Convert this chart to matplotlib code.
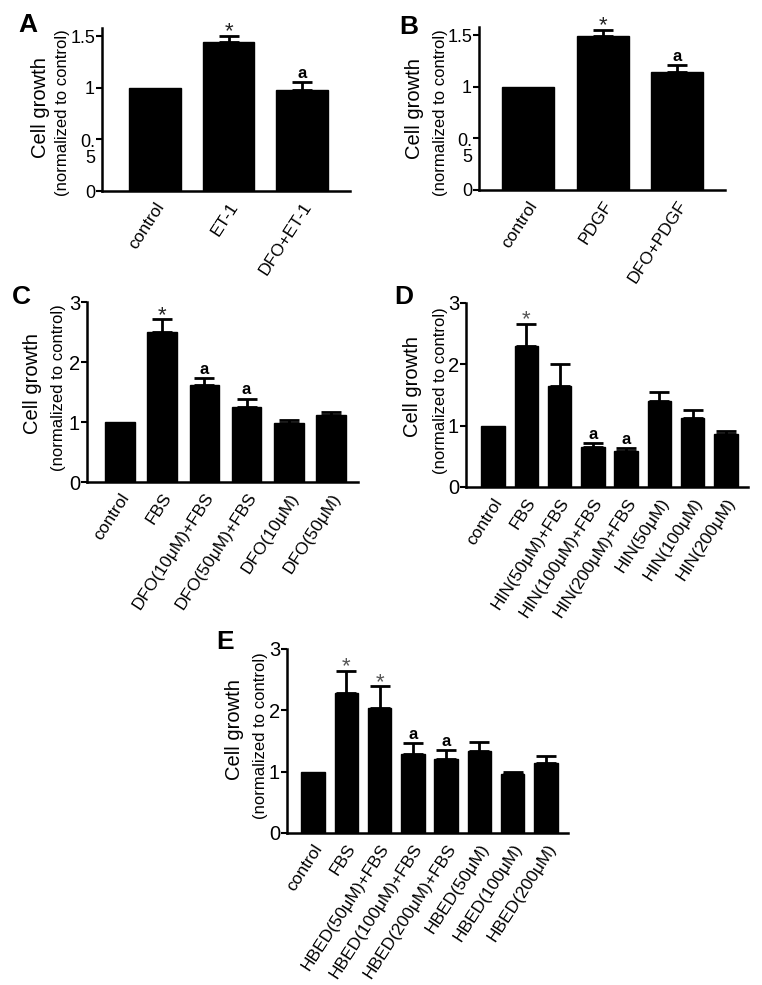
import matplotlib
matplotlib.use("Agg")
import matplotlib.pyplot as plt
from matplotlib.transforms import ScaledTranslation
import numpy as np

plt.rcParams['font.family'] = ['Liberation Sans', 'DejaVu Sans']

W, H = 762, 985

# ---- data ----
a_labels = ['control', 'ET-1', 'DFO+ET-1']
a_means = [1.0, 1.44, 0.98]
a_errs = [0.0, 0.06, 0.075]
a_marks = ['', '*', 'a']

b_labels = ['control', 'PDGF', 'DFO+PDGF']
b_means = [1.0, 1.49, 1.14]
b_errs = [0.0, 0.06, 0.07]
b_marks = ['', '*', 'a']

c_labels = ['control', 'FBS', 'DFO(10μM)+FBS', 'DFO(50μM)+FBS',
            'DFO(10μM)', 'DFO(50μM)']
c_means = [1.0, 2.50, 1.61, 1.25, 0.99, 1.11]
c_errs = [0.0, 0.21, 0.12, 0.14, 0.05, 0.06]
c_marks = ['', '*', 'a', 'a', '', '']

d_labels = ['control', 'FBS', 'HIN(50μM)+FBS', 'HIN(100μM)+FBS',
            'HIN(200μM)+FBS', 'HIN(50μM)', 'HIN(100μM)', 'HIN(200μM)']
d_means = [1.0, 2.30, 1.64, 0.65, 0.59, 1.40, 1.13, 0.86]
d_errs = [0.0, 0.36, 0.36, 0.07, 0.05, 0.15, 0.12, 0.05]
d_marks = ['', '*', '', 'a', 'a', '', '', '']

e_labels = ['control', 'FBS', 'HBED(50μM)+FBS', 'HBED(100μM)+FBS',
            'HBED(200μM)+FBS', 'HBED(50μM)', 'HBED(100μM)', 'HBED(200μM)']
e_means = [1.0, 2.29, 2.04, 1.29, 1.21, 1.34, 0.96, 1.14]
e_errs = [0.0, 0.35, 0.35, 0.17, 0.14, 0.14, 0.04, 0.11]
e_marks = ['', '*', '*', 'a', 'a', '', '', '']

small_ticks = [0, 0.5, 1, 1.5]
small_ticklabels = ['0', '0.\n5', '1', '1.5']
big_ticks = [0, 1, 2, 3]
big_ticklabels = ['0', '1', '2', '3']


def fx(x):
    return x / W


def fy(y):
    return 1 - y / H


fig = plt.figure(figsize=(W / 100, H / 100), dpi=100)


def panel(box, labels, means, errs, marks, xlim, ylim, ticks, ticklabels,
          ytick_size, star_color, letter, letter_xy, lab1_xy, lab2_xy):
    left, top, right, bottom = box
    ax = fig.add_axes([fx(left), fy(bottom), fx(right - left),
                       (bottom - top) / H])
    x = np.arange(len(means))
    means = np.array(means)
    errs = np.array(errs)
    ax.bar(x, means, width=0.7, color='black', edgecolor='black', zorder=2)
    has_err = errs > 0
    ax.errorbar(x[has_err], means[has_err],
                yerr=[np.zeros(has_err.sum()), errs[has_err]], fmt='none',
                ecolor='black', elinewidth=2, capsize=7, capthick=2, zorder=1)
    for xi, m, e, mk in zip(x, means, errs, marks):
        if mk == '*':
            ax.annotate('*', (xi, m + e), xytext=(0, -1),
                        textcoords='offset points', ha='center',
                        va='baseline', fontsize=16, color=star_color)
        elif mk:
            ax.annotate(mk, (xi, m + e), xytext=(0, 3),
                        textcoords='offset points', ha='center',
                        va='baseline', fontsize=12, fontweight='bold')
    ax.set_xlim(*xlim)
    ax.set_ylim(*ylim)
    ax.set_yticks(ticks)
    ax.set_yticklabels(ticklabels)
    ax.set_xticks(x)
    ax.set_xticklabels(labels, rotation=57, ha='right',
                       rotation_mode='anchor')
    ax.tick_params(axis='x', length=0, pad=6, labelsize=12.5)
    ax.tick_params(axis='y', length=4, width=1.5, pad=1,
                   labelsize=ytick_size)
    for t in ax.get_yticklabels():
        if '\n' in t.get_text():
            t.set_linespacing(0.95)
            t.set_transform(t.get_transform() +
                            ScaledTranslation(0, -7 / 72,
                                              fig.dpi_scale_trans))
    for s in ['top', 'right']:
        ax.spines[s].set_visible(False)
    for s in ['left', 'bottom']:
        ax.spines[s].set_linewidth(1.8)
    fig.text(fx(letter_xy[0]), fy(letter_xy[1]), letter, fontsize=19,
             fontweight='bold', ha='center', va='center')
    fig.text(fx(lab1_xy[0]), fy(lab1_xy[1]), 'Cell growth', fontsize=14.5,
             rotation=90, ha='center', va='center')
    fig.text(fx(lab2_xy[0]), fy(lab2_xy[1]), '(normalized to control)',
             fontsize=12, rotation=90, ha='center', va='center')
    return ax


panel((102, 28, 350, 191), a_labels, a_means, a_errs, a_marks,
      (-0.72, 2.65), (0, 1.58), small_ticks, small_ticklabels, 13, '#222222',
      'A', (28, 25), (40, 108), (63, 113))
panel((479, 27, 725, 190), b_labels, b_means, b_errs, b_marks,
      (-0.66, 2.64), (0, 1.58), small_ticks, small_ticklabels, 13, '#222222',
      'B', (409, 27), (415, 109), (440, 113))
panel((87, 302, 358, 482), c_labels, c_means, c_errs, c_marks,
      (-0.78, 5.64), (0, 3.0), big_ticks, big_ticklabels, 14.5, '#222222',
      'C', (21, 297), (33, 384), (58, 388))
panel((466, 303, 748, 487), d_labels, d_means, d_errs, d_marks,
      (-0.81, 7.66), (0, 3.0), big_ticks, big_ticklabels, 14.5, '#555555',
      'D', (404, 297), (413, 387), (440, 391))
panel((287, 649, 568, 833), e_labels, e_means, e_errs, e_marks,
      (-0.78, 7.66), (0, 3.0), big_ticks, big_ticklabels, 14.5, '#555555',
      'E', (225, 642), (235, 730), (260, 736))

fig.savefig('out.png', dpi=100)
